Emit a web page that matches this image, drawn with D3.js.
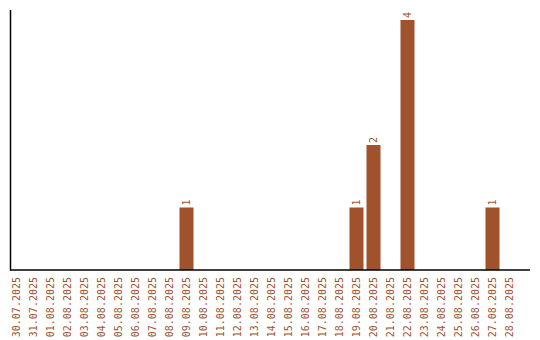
<!DOCTYPE html>
<html><head><meta charset="utf-8">
<script src="https://cdn.jsdelivr.net/npm/d3@7"></script>
<style>html,body{margin:0;padding:0;background:#fff;}svg{display:block;}</style>
</head><body>
<script>
const categories = ["30.07.2025","31.07.2025","01.08.2025","02.08.2025","03.08.2025","04.08.2025","05.08.2025","06.08.2025","07.08.2025","08.08.2025","09.08.2025","10.08.2025","11.08.2025","12.08.2025","13.08.2025","14.08.2025","15.08.2025","16.08.2025","17.08.2025","18.08.2025","19.08.2025","20.08.2025","21.08.2025","22.08.2025","23.08.2025","24.08.2025","25.08.2025","26.08.2025","27.08.2025","28.08.2025"];
const values = [0,0,0,0,0,0,0,0,0,0,1,0,0,0,0,0,0,0,0,0,1,2,0,4,0,0,0,0,1,0];

const W = 540, H = 340;
const color = "#a0522d";
const svg = d3.select("body").append("svg").attr("width", W).attr("height", H);

const x = d3.scaleBand().domain(categories).range([8, 518]).paddingInner(3/17).paddingOuter(1.5/17);
const y = d3.scaleLinear().domain([0, 4]).range([270, 20]);

const data = categories.map((c, i) => ({c, v: values[i]}));

svg.selectAll("rect.bar").data(data.filter(d => d.v > 0)).enter().append("rect")
  .attr("class", "bar")
  .attr("x", d => x(d.c)).attr("width", x.bandwidth())
  .attr("y", d => y(d.v)).attr("height", d => y(0) - y(d.v))
  .attr("fill", color);

svg.selectAll("text.val").data(data.filter(d => d.v > 0)).enter().append("text")
  .attr("class", "val")
  .attr("transform", d => `translate(${x(d.c) + x.bandwidth()/2},${y(d.v) - 2}) rotate(-90)`)
  .attr("dy", "0.35em")
  .attr("text-anchor", "start")
  .attr("font-family", "DejaVu Sans Mono")
  .attr("font-size", 10)
  .attr("fill", color)
  .text(d => d.v);

// axes
const xAxis = d3.axisBottom(x).tickSize(0).tickPadding(0);
const gx = svg.append("g").attr("transform", "translate(0,270)").call(xAxis);
gx.select(".domain").remove();
gx.selectAll("text")
  .attr("transform", "translate(0,7) rotate(-90)")
  .attr("x", 0).attr("y", 0).attr("dy", "0.35em")
  .attr("text-anchor", "end")
  .attr("font-family", "DejaVu Sans Mono")
  .attr("font-size", 10)
  .attr("fill", color);

svg.append("line").attr("x1", 10.5).attr("x2", 10.5).attr("y1", 10).attr("y2", 270.5)
  .attr("stroke", "#000").attr("stroke-width", 1.5);
svg.append("line").attr("x1", 10).attr("x2", 530).attr("y1", 270).attr("y2", 270)
  .attr("stroke", "#000").attr("stroke-width", 1.5);
</script>
</body></html>
